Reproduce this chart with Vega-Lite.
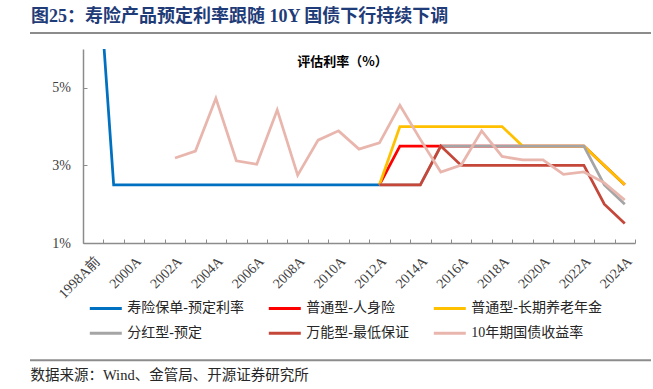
{
  "$schema": "https://vega.github.io/schema/vega-lite/v6.json",
  "width": 552,
  "height": 194,
  "autosize": {"type": "none"},
  "padding": {"left": 83, "top": 49, "right": 18, "bottom": 146},
  "background": "white",
  "config": {"view": {"stroke": null}},
  "title": {
    "text": "图25：寿险产品预定利率跟随 10Y 国债下行持续下调",
    "anchor": "start",
    "frame": "group",
    "dx": -52,
    "offset": 6,
    "fontSize": 18,
    "font": "Liberation Serif, Noto Sans CJK SC",
    "fontWeight": "bold",
    "color": "#1F3C78"
  },
  "data": {"values": [
    {"year": "1998A前", "series": "寿险保单-预定利率", "value": 0.10},
    {"year": "1999A", "series": "寿险保单-预定利率", "value": 0.025},
    {"year": "2000A", "series": "寿险保单-预定利率", "value": 0.025},
    {"year": "2001A", "series": "寿险保单-预定利率", "value": 0.025},
    {"year": "2002A", "series": "寿险保单-预定利率", "value": 0.025},
    {"year": "2003A", "series": "寿险保单-预定利率", "value": 0.025},
    {"year": "2004A", "series": "寿险保单-预定利率", "value": 0.025},
    {"year": "2005A", "series": "寿险保单-预定利率", "value": 0.025},
    {"year": "2006A", "series": "寿险保单-预定利率", "value": 0.025},
    {"year": "2007A", "series": "寿险保单-预定利率", "value": 0.025},
    {"year": "2008A", "series": "寿险保单-预定利率", "value": 0.025},
    {"year": "2009A", "series": "寿险保单-预定利率", "value": 0.025},
    {"year": "2010A", "series": "寿险保单-预定利率", "value": 0.025},
    {"year": "2011A", "series": "寿险保单-预定利率", "value": 0.025},
    {"year": "2012A", "series": "寿险保单-预定利率", "value": 0.025},
    {"year": "2012A", "series": "普通型-人身险", "value": 0.025},
    {"year": "2013A", "series": "普通型-人身险", "value": 0.035},
    {"year": "2014A", "series": "普通型-人身险", "value": 0.035},
    {"year": "2015A", "series": "普通型-人身险", "value": 0.035},
    {"year": "2016A", "series": "普通型-人身险", "value": 0.035},
    {"year": "2017A", "series": "普通型-人身险", "value": 0.035},
    {"year": "2018A", "series": "普通型-人身险", "value": 0.035},
    {"year": "2019A", "series": "普通型-人身险", "value": 0.035},
    {"year": "2020A", "series": "普通型-人身险", "value": 0.035},
    {"year": "2021A", "series": "普通型-人身险", "value": 0.035},
    {"year": "2022A", "series": "普通型-人身险", "value": 0.035},
    {"year": "2023A", "series": "普通型-人身险", "value": 0.030},
    {"year": "2024A", "series": "普通型-人身险", "value": 0.025},
    {"year": "2012A", "series": "普通型-长期养老年金", "value": 0.025},
    {"year": "2013A", "series": "普通型-长期养老年金", "value": 0.040},
    {"year": "2014A", "series": "普通型-长期养老年金", "value": 0.040},
    {"year": "2015A", "series": "普通型-长期养老年金", "value": 0.040},
    {"year": "2016A", "series": "普通型-长期养老年金", "value": 0.040},
    {"year": "2017A", "series": "普通型-长期养老年金", "value": 0.040},
    {"year": "2018A", "series": "普通型-长期养老年金", "value": 0.040},
    {"year": "2019A", "series": "普通型-长期养老年金", "value": 0.035},
    {"year": "2020A", "series": "普通型-长期养老年金", "value": 0.035},
    {"year": "2021A", "series": "普通型-长期养老年金", "value": 0.035},
    {"year": "2022A", "series": "普通型-长期养老年金", "value": 0.035},
    {"year": "2023A", "series": "普通型-长期养老年金", "value": 0.030},
    {"year": "2024A", "series": "普通型-长期养老年金", "value": 0.025},
    {"year": "2012A", "series": "分红型-预定", "value": 0.025},
    {"year": "2013A", "series": "分红型-预定", "value": 0.025},
    {"year": "2014A", "series": "分红型-预定", "value": 0.025},
    {"year": "2015A", "series": "分红型-预定", "value": 0.035},
    {"year": "2016A", "series": "分红型-预定", "value": 0.035},
    {"year": "2017A", "series": "分红型-预定", "value": 0.035},
    {"year": "2018A", "series": "分红型-预定", "value": 0.035},
    {"year": "2019A", "series": "分红型-预定", "value": 0.035},
    {"year": "2020A", "series": "分红型-预定", "value": 0.035},
    {"year": "2021A", "series": "分红型-预定", "value": 0.035},
    {"year": "2022A", "series": "分红型-预定", "value": 0.035},
    {"year": "2023A", "series": "分红型-预定", "value": 0.025},
    {"year": "2024A", "series": "分红型-预定", "value": 0.020},
    {"year": "2012A", "series": "万能型-最低保证", "value": 0.025},
    {"year": "2013A", "series": "万能型-最低保证", "value": 0.025},
    {"year": "2014A", "series": "万能型-最低保证", "value": 0.025},
    {"year": "2015A", "series": "万能型-最低保证", "value": 0.035},
    {"year": "2016A", "series": "万能型-最低保证", "value": 0.030},
    {"year": "2017A", "series": "万能型-最低保证", "value": 0.030},
    {"year": "2018A", "series": "万能型-最低保证", "value": 0.030},
    {"year": "2019A", "series": "万能型-最低保证", "value": 0.030},
    {"year": "2020A", "series": "万能型-最低保证", "value": 0.030},
    {"year": "2021A", "series": "万能型-最低保证", "value": 0.030},
    {"year": "2022A", "series": "万能型-最低保证", "value": 0.030},
    {"year": "2023A", "series": "万能型-最低保证", "value": 0.020},
    {"year": "2024A", "series": "万能型-最低保证", "value": 0.015},
    {"year": "2002A", "series": "10年期国债收益率", "value": 0.0319},
    {"year": "2003A", "series": "10年期国债收益率", "value": 0.0337},
    {"year": "2004A", "series": "10年期国债收益率", "value": 0.0473},
    {"year": "2005A", "series": "10年期国债收益率", "value": 0.0312},
    {"year": "2006A", "series": "10年期国债收益率", "value": 0.0303},
    {"year": "2007A", "series": "10年期国债收益率", "value": 0.0443},
    {"year": "2008A", "series": "10年期国债收益率", "value": 0.0275},
    {"year": "2009A", "series": "10年期国债收益率", "value": 0.0365},
    {"year": "2010A", "series": "10年期国债收益率", "value": 0.0389},
    {"year": "2011A", "series": "10年期国债收益率", "value": 0.0342},
    {"year": "2012A", "series": "10年期国债收益率", "value": 0.0358},
    {"year": "2013A", "series": "10年期国债收益率", "value": 0.0455},
    {"year": "2014A", "series": "10年期国债收益率", "value": 0.0367},
    {"year": "2015A", "series": "10年期国债收益率", "value": 0.0283},
    {"year": "2016A", "series": "10年期国债收益率", "value": 0.0301},
    {"year": "2017A", "series": "10年期国债收益率", "value": 0.0389},
    {"year": "2018A", "series": "10年期国债收益率", "value": 0.0323},
    {"year": "2019A", "series": "10年期国债收益率", "value": 0.0314},
    {"year": "2020A", "series": "10年期国债收益率", "value": 0.0314},
    {"year": "2021A", "series": "10年期国债收益率", "value": 0.0277},
    {"year": "2022A", "series": "10年期国债收益率", "value": 0.0283},
    {"year": "2023A", "series": "10年期国债收益率", "value": 0.0255},
    {"year": "2024A", "series": "10年期国债收益率", "value": 0.0211}
  ]},
  "resolve": {"axis": {"x": "independent"}},
  "layer": [
    {
      "mark": {"type": "line", "strokeWidth": 2.75, "clip": true},
      "encoding": {
        "x": {
          "field": "year",
          "type": "ordinal",
          "scale": {
            "type": "band",
            "paddingInner": 0,
            "paddingOuter": 0,
            "domain": ["1998A前","1999A","2000A","2001A","2002A","2003A","2004A","2005A","2006A","2007A","2008A","2009A","2010A","2011A","2012A","2013A","2014A","2015A","2016A","2017A","2018A","2019A","2020A","2021A","2022A","2023A","2024A"]
          },
          "axis": {
            "orient": "bottom",
            "title": "数据来源：Wind、金管局、开源证券研究所",
            "titleX": -53,
            "titleY": 132,
            "titleAlign": "left",
            "titleBaseline": "middle",
            "titleFontSize": 14.5,
            "titleFontWeight": "normal",
            "titleColor": "#262626",
            "titleFont": "Liberation Serif, Noto Sans CJK SC",
            "labels": false,
            "tickBand": "extent",
            "tickSize": -4,
            "tickColor": "#8c8c8c",
            "domainColor": "#8c8c8c",
            "domainWidth": 1.5,
            "grid": false
          }
        },
        "y": {
          "field": "value",
          "type": "quantitative",
          "scale": {"domain": [0.01, 0.06], "nice": false, "zero": false},
          "axis": {
            "values": [0.01, 0.02, 0.03, 0.04, 0.05, 0.06],
            "format": ".0%",
            "labelOverlap": false,
            "labelFontSize": 14,
            "labelColor": "#404040",
            "labelFont": "Liberation Serif",
            "labelPadding": 16.5,
            "tickSize": -4,
            "tickColor": "#8c8c8c",
            "domainColor": "#8c8c8c",
            "domainWidth": 1.5,
            "grid": false,
            "title": "评估利率（%）",
            "titleAngle": 0,
            "titleX": 259,
            "titleY": 12,
            "titleAlign": "center",
            "titleBaseline": "middle",
            "titleFontSize": 13,
            "titleFontWeight": "bold",
            "titleColor": "black",
            "titleFont": "Noto Sans CJK SC"
          }
        },
        "color": {
          "field": "series",
          "type": "nominal",
          "scale": {
            "domain": ["寿险保单-预定利率", "普通型-人身险", "普通型-长期养老年金", "分红型-预定", "万能型-最低保证", "10年期国债收益率"],
            "range": ["#0070C0", "#FF0000", "#FFC000", "#A5A5A5", "#C4473A", "#E9B6AE"]
          },
          "legend": {
            "orient": "none",
            "legendX": 5.3,
            "legendY": 241.7,
            "columns": 3,
            "direction": "horizontal",
            "title": null,
            "padding": 0,
            "symbolType": "stroke",
            "symbolSize": 1024,
            "symbolStrokeWidth": 3,
            "labelFontSize": 14,
            "labelFont": "Liberation Serif, Noto Sans CJK SC",
            "labelColor": "#262626",
            "labelOffset": 4,
            "labelLimit": 300,
            "columnPadding": 18,
            "rowPadding": -6
          }
        }
      }
    },
    {
      "mark": {"type": "point", "opacity": 0, "clip": true},
      "encoding": {
        "x": {
          "field": "year",
          "type": "ordinal",
          "axis": {
            "orient": "bottom",
            "values": ["1998A前","2000A","2002A","2004A","2006A","2008A","2010A","2012A","2014A","2016A","2018A","2020A","2022A","2024A"],
            "title": null,
            "domain": false,
            "ticks": false,
            "tickSize": 0,
            "labelAngle": -45,
            "labelAlign": "right",
            "labelBaseline": "top",
            "labelFontSize": 14,
            "labelColor": "#404040",
            "labelFont": "Liberation Serif, Noto Sans CJK SC",
            "labelPadding": 11,
            "labelOverlap": false,
            "grid": false
          }
        }
      }
    },
    {
      "data": {"values": [{}]},
      "mark": {"type": "rule", "color": "#8c8c8c", "strokeWidth": 2},
      "encoding": {"y": {"datum": 0.0641}, "x": {"value": -53}, "x2": {"value": 568}}
    },
    {
      "data": {"values": [{}]},
      "mark": {"type": "rule", "color": "#8c8c8c", "strokeWidth": 2},
      "encoding": {"y": {"datum": -0.0202}, "x": {"value": -53}, "x2": {"value": 568}}
    }
  ]
}
